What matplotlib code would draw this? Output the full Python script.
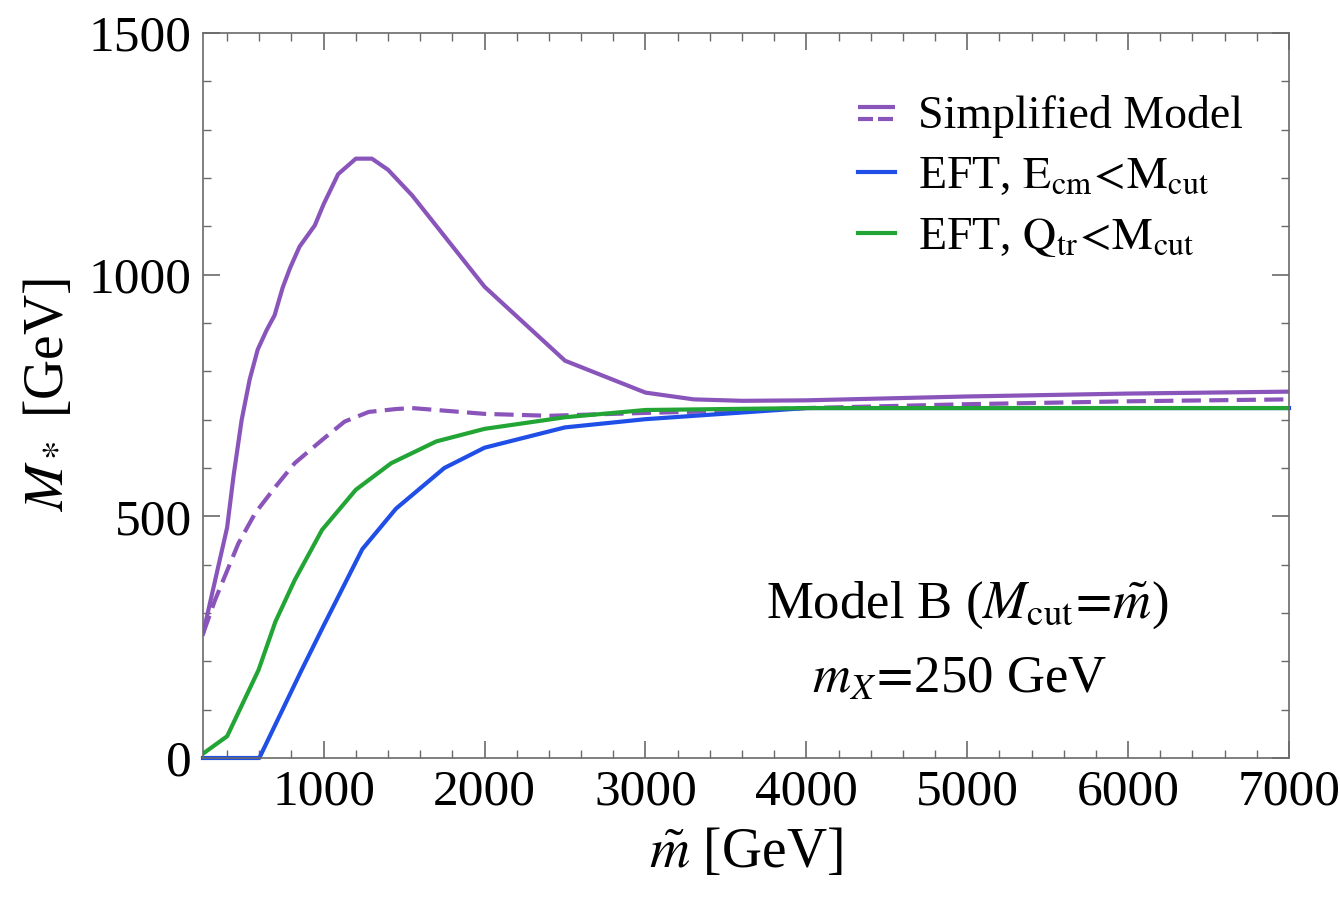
import numpy as np
import matplotlib
matplotlib.use("Agg")
import matplotlib.pyplot as plt
from matplotlib.lines import Line2D
from matplotlib.legend_handler import HandlerBase
from matplotlib.ticker import MultipleLocator

plt.rcParams['font.family'] = ['Liberation Serif', 'DejaVu Serif']
plt.rcParams['mathtext.fontset'] = 'stix'

# M_* bounds vs mediator mass (GeV), model B, m_X = 250 GeV
simp_x = [250, 400, 440, 490, 540, 590, 645, 695, 745, 790, 850, 945, 1000,
          1090, 1200, 1300, 1400, 1550, 2000, 2500, 3000, 3300, 3600, 4000,
          5000, 6000, 7000]
simp_y = [257, 477, 584, 699, 783, 845, 885, 916, 973, 1013, 1058, 1102, 1146,
          1208, 1240, 1240, 1217, 1164, 975, 822, 756, 742, 739, 740,
          748, 754, 758]

simp_dash_x = [250, 325, 470, 575, 700, 820, 990, 1130, 1280, 1450, 1550,
               1700, 2000, 2400, 3000, 3500, 4000, 5000, 6000, 7000]
simp_dash_y = [257, 327, 444, 507, 561, 610, 658, 696, 716, 722, 724,
               720, 712, 708, 714, 718, 724, 732, 738, 742]

ecm_x = [250, 600, 860, 1000, 1240, 1450, 1750, 2000, 2500, 3000, 4000,
         5000, 6000, 7000]
ecm_y = [0, 0, 180, 274, 432, 516, 600, 642, 684, 701, 724,
         724, 724, 724]

qtr_x = [250, 400, 595, 700, 820, 990, 1200, 1420, 1700, 2000,
         2500, 3000, 4000, 5000, 6000, 7000]
qtr_y = [9, 45, 182, 282, 368, 472, 555, 610, 655, 681,
         705, 720, 724, 724, 724, 724]

purple = '#8a55bb'
blue = '#1f4fe6'
green = '#23a535'
frame = '#6a6a6a'
lw = 3.0


class SolidDashHandler(HandlerBase):
    # legend key with a solid line stacked over a dashed one
    def legend_artist(self, legend, orig_handle, fontsize, handlebox):
        x0, y0 = -handlebox.xdescent, -handlebox.ydescent
        w, h = handlebox.width, handlebox.height
        top = Line2D([x0, x0 + w], [y0 + 0.66 * h] * 2, color=purple, lw=lw,
                     solid_capstyle='butt')
        bot = Line2D([x0, x0 + w], [y0 + 0.30 * h] * 2, color=purple, lw=lw,
                     dashes=(3.6, 1.2), dash_capstyle='butt')
        handlebox.add_artist(top)
        handlebox.add_artist(bot)
        return top


fig = plt.figure(figsize=(13.4, 8.98), dpi=100)
ax = fig.add_axes([203 / 1340, 140 / 898, 1086 / 1340, 725 / 898])

l_simp, = ax.plot(simp_x, simp_y, color=purple, lw=lw)
ax.plot(simp_dash_x, simp_dash_y, color=purple, lw=lw, dashes=(4.6, 2.0))
l_ecm, = ax.plot(ecm_x, ecm_y, color=blue, lw=lw, clip_on=False)
l_qtr, = ax.plot(qtr_x, qtr_y, color=green, lw=lw)

ax.set_xlim(250, 7000)
ax.set_ylim(0, 1500)
ax.xaxis.set_major_locator(MultipleLocator(1000))
ax.xaxis.set_minor_locator(MultipleLocator(200))
ax.yaxis.set_major_locator(MultipleLocator(500))
ax.yaxis.set_minor_locator(MultipleLocator(100))
ax.tick_params(which='both', direction='in', top=True, right=True,
               color=frame, labelsize=37, labelcolor='black')
ax.tick_params(which='major', length=12, width=1.2, pad=8)
ax.tick_params(which='minor', length=6, width=1.0)
for sp in ax.spines.values():
    sp.set_color(frame)
    sp.set_linewidth(1.2)

ax.set_xlabel(r'$\tilde{m}$ [GeV]', fontsize=40, labelpad=8)
ax.set_ylabel(r'$M_*$ [GeV]', fontsize=40, labelpad=10)

ax.text(0.704, 0.211, r'Model B ($M_{\rm cut}\!=\!\tilde{m}$)', fontsize=38,
        transform=ax.transAxes, ha='center', va='center')
ax.text(0.697, 0.108, r'$m_X\!=\!$250 GeV', fontsize=38,
        transform=ax.transAxes, ha='center', va='center')

ax.legend([(l_simp,), l_ecm, l_qtr],
          ['Simplified Model',
           r'EFT, $\mathrm{E_{cm}}\!<\!\mathrm{M_{cut}}$',
           r'EFT, $\mathrm{Q_{tr}}\!<\!\mathrm{M_{cut}}$'],
          handler_map={tuple: SolidDashHandler()},
          loc='upper left', bbox_to_anchor=(0.603, 0.914), frameon=False,
          fontsize=33, handlelength=0.82, handletextpad=0.5,
          labelspacing=0.38, borderpad=0, borderaxespad=0)

fig.savefig('out.png', dpi=100)
